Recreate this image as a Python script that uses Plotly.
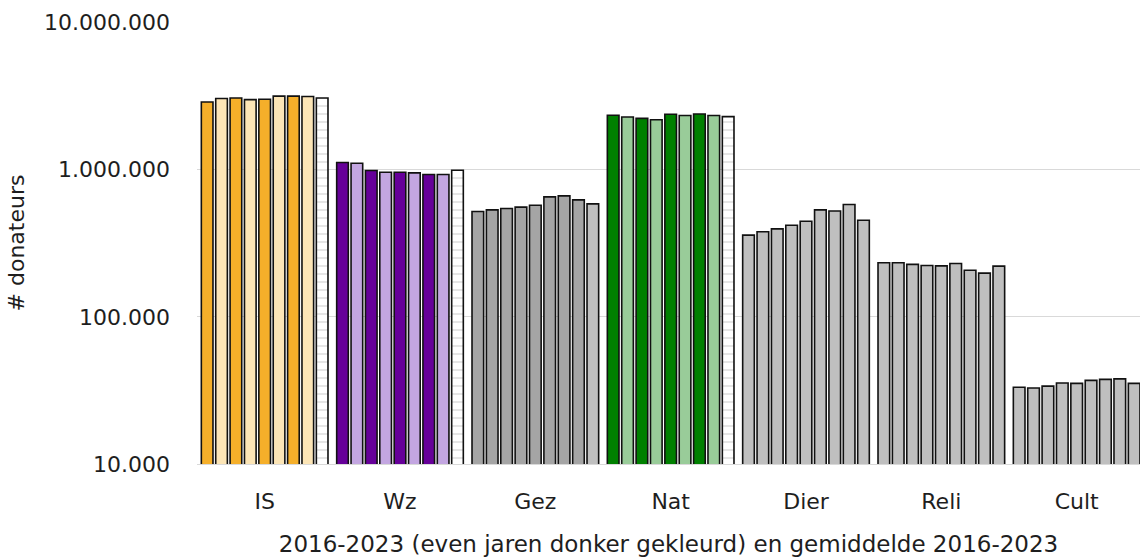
import plotly.graph_objects as go

# Donateurs per doelsector, 2016..2023 + gemiddelde 2016-2023
categories = ["IS", "Wz", "Gez", "Nat", "Dier", "Reli", "Cult"]
years = ["2016", "2017", "2018", "2019", "2020", "2021", "2022", "2023"]

IS = [2880000, 3040000, 3070000, 2990000, 3010000, 3160000, 3160000, 3140000, 3070000]
Wz = [1117000, 1105000, 986000, 960000, 960000, 950000, 926000, 926000, 991000]
Gez = [519000, 533000, 544000, 556000, 573000, 653000, 663000, 623000, 585000]
Nat = [2340000, 2280000, 2230000, 2180000, 2380000, 2330000, 2390000, 2330000, 2290000]
Dier = [359000, 378000, 396000, 419000, 446000, 533000, 524000, 580000, 453000]
Reli = [233000, 233000, 227000, 223000, 222000, 230000, 207000, 198000, 221000]
Cult = [33200, 32800, 33800, 35500, 35300, 37000, 37600, 37900, 35300]

series = [IS, Wz, Gez, Nat, Dier, Reli, Cult]

# kleuren per sector: even jaar, oneven jaar, gemiddelde
dark = ["#F5AF2A", "#660099", "#A5A5A5", "#008000", "#BFBFBF", "#BFBFBF", "#BFBFBF"]
light = ["#FCE5B6", "#C3A6E1", "#A5A5A5", "#99CC99", "#BFBFBF", "#BFBFBF", "#BFBFBF"]
avg = ["#FFFFFF", "#FFFFFF", "#BFBFBF", "#FFFFFF", "#BFBFBF", "#BFBFBF", "#BFBFBF"]
hatched = [True, True, False, True, False, False, False]

FONT = "DejaVu Sans"
OUTLINE = dict(color="#111111", width=1.6)

fig = go.Figure()
for i, year in enumerate(years):
    fig.add_trace(go.Bar(
        name=year,
        x=categories,
        y=[s[i] for s in series],
        offsetgroup=year,
        marker=dict(color=dark if i % 2 == 0 else light, line=OUTLINE),
        hovertemplate="%{x} " + year + ": %{y:,.0f}<extra></extra>",
    ))

# gemiddelde 2016-2023: gearceerd bij IS, Wz en Nat, effen grijs bij de rest
hx = [c for c, h in zip(categories, hatched) if h]
hy = [s[8] for s, h in zip(series, hatched) if h]
px = [c for c, h in zip(categories, hatched) if not h]
py = [s[8] for s, h in zip(series, hatched) if not h]
pc = [c for c, h in zip(avg, hatched) if not h]

fig.add_trace(go.Bar(
    name="gem. 2016-2023",
    x=hx, y=hy,
    offsetgroup="gem",
    marker=dict(color="#FFFFFF", line=OUTLINE,
                pattern=dict(shape="-", fgcolor="#C4C4C4", bgcolor="#FFFFFF",
                             size=8, solidity=0.22)),
    hovertemplate="%{x} gem.: %{y:,.0f}<extra></extra>",
))
fig.add_trace(go.Bar(
    name="gem. 2016-2023",
    x=px, y=py,
    offsetgroup="gem",
    marker=dict(color=pc, line=OUTLINE),
    hovertemplate="%{x} gem.: %{y:,.0f}<extra></extra>",
))

tick_vals = [10000, 100000, 1000000, 10000000]
tick_text = ["10.000", "100.000", "1.000.000", "10.000.000"]

fig.update_layout(
    width=1140,
    height=558,
    margin=dict(l=197, r=0, t=22, b=94),
    paper_bgcolor="white",
    plot_bgcolor="white",
    barmode="group",
    bargap=0.044,
    bargroupgap=0.19,
    showlegend=False,
    font=dict(family=FONT, size=22, color="#1E1E1E"),
    xaxis=dict(
        categoryorder="array",
        categoryarray=categories,
        range=[-0.5, 6.468],
        automargin=False,
        showgrid=False,
        showline=True,
        linecolor="#D9D9D9",
        linewidth=1,
        ticks="",
        ticklabelstandoff=18,
        tickfont=dict(size=22),
        title=dict(text="2016-2023 (even jaren donker gekleurd) en gemiddelde 2016-2023",
                   font=dict(size=23), standoff=22),
    ),
    yaxis=dict(
        type="log",
        range=[4, 7.003],
        automargin=False,
        tickvals=tick_vals,
        ticktext=tick_text,
        showgrid=True,
        gridcolor="#D9D9D9",
        gridwidth=1,
        showline=False,
        zeroline=False,
        ticks="",
        ticklabelstandoff=26,
        tickfont=dict(size=22),
        title=dict(text="# donateurs", font=dict(size=22), standoff=13),
    ),
)

# pagina zonder standaard body-marge, zodat de figuur precies in het venster past
fig.write_html("out.html", config={"displayModeBar": False},
               post_script="document.body.style.margin='0px';")
